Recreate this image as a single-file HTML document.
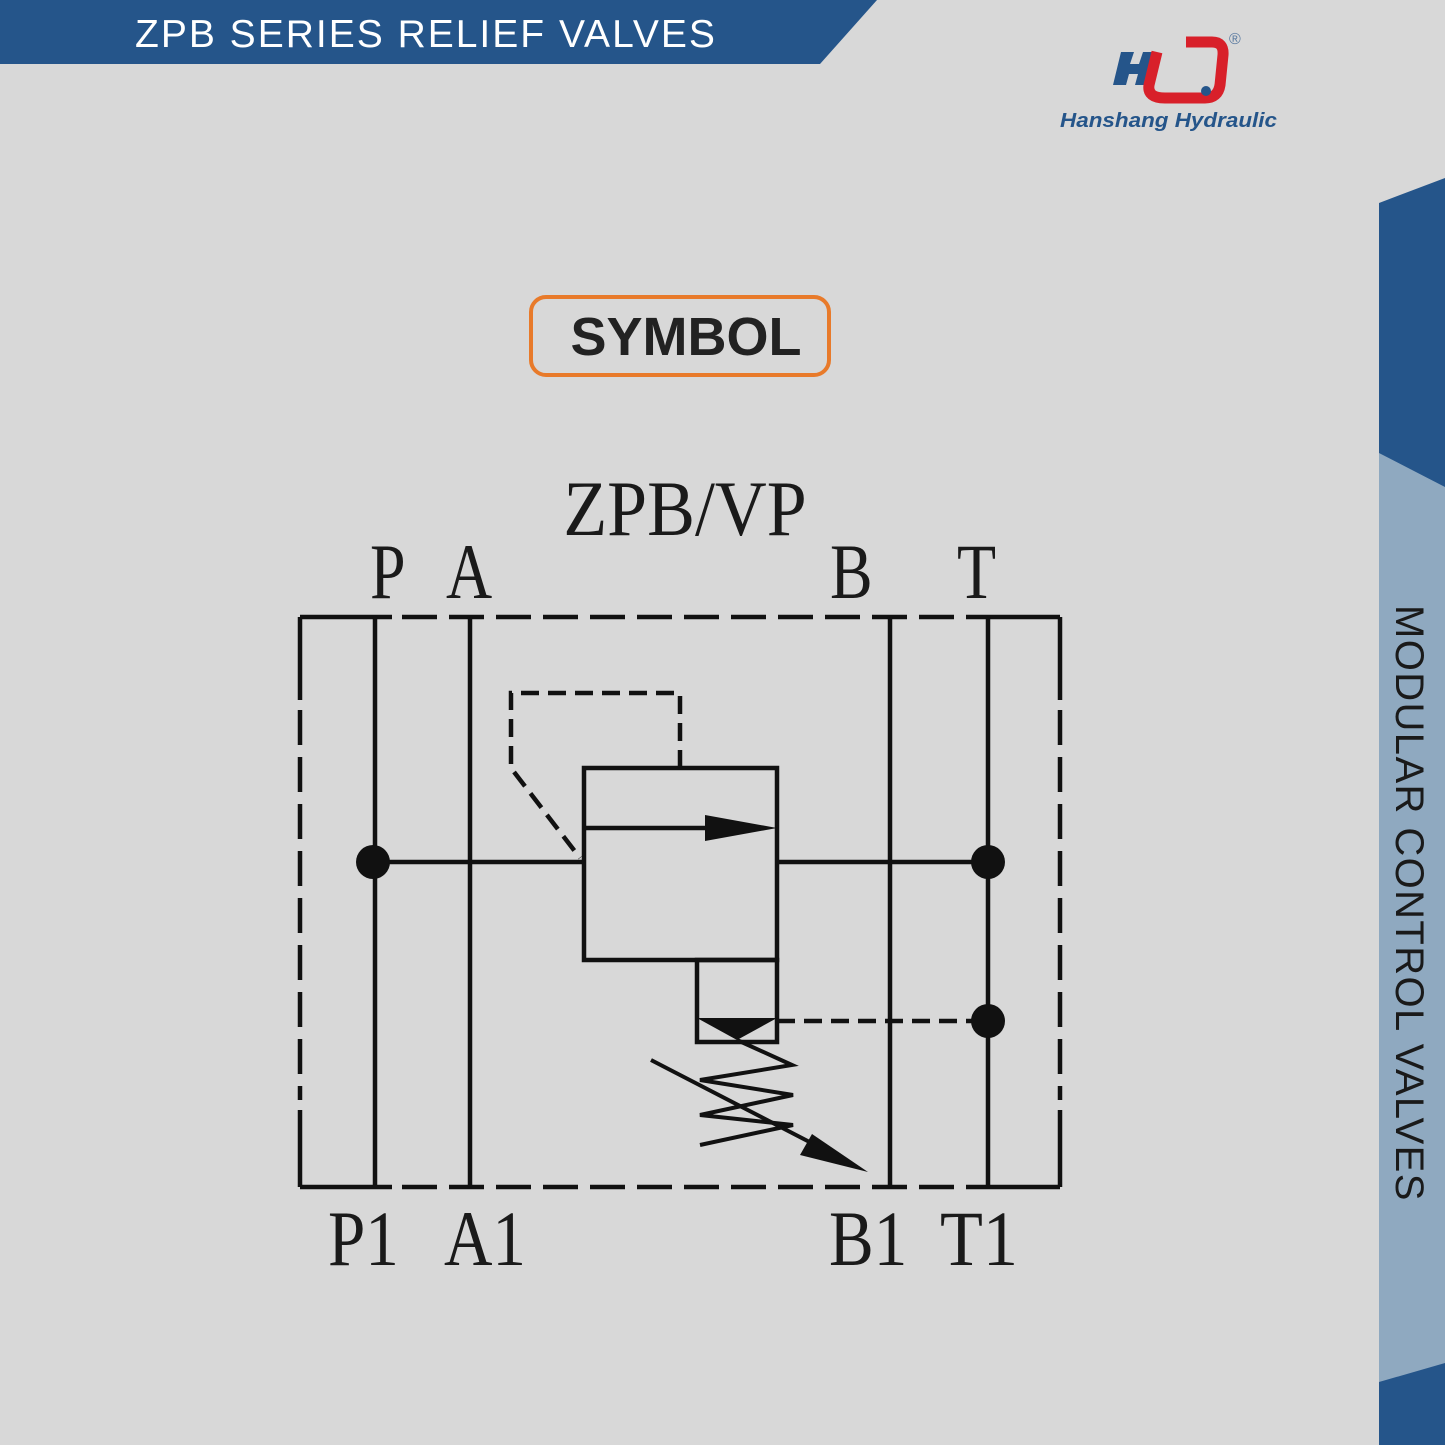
<!DOCTYPE html>
<html><head><meta charset="utf-8"><style>
html,body{margin:0;padding:0;background:#d8d8d8;}
body{width:1445px;height:1445px;position:relative;overflow:hidden;font-family:"Liberation Sans",sans-serif;}
</style></head><body>
<svg width="1445" height="1445" viewBox="0 0 1445 1445" style="position:absolute;left:0;top:0">
<rect width="1445" height="1445" fill="#d8d8d8"/>
<polygon points="0,0 877,0 820,64 0,64" fill="#25558a"/>
<text x="135" y="47" fill="#fff" font-size="39" font-family="Liberation Sans" letter-spacing="2">ZPB SERIES RELIEF VALVES</text>
<polygon points="1379,203 1445,178 1445,1445 1379,1445" fill="#25558a"/>
<polygon points="1379,453 1445,487 1445,1363 1379,1382" fill="#8fa9c0"/>
<text transform="translate(1396,605) rotate(90)" font-size="40" fill="#1a1a1a" font-family="Liberation Sans" letter-spacing="1.4">MODULAR CONTROL VALVES</text>
<g>
<polygon points="1121,52 1134,52 1130,64 1139,64 1143,52 1156,52 1148,85 1135,85 1138,74 1129,74 1126,85 1113,85" fill="#25558a"/>
<path d="M1157,52 L1149,85 Q1147,98 1165,98 L1205,98 Q1218,98 1220,85 L1223,55 Q1224,42 1212,42 L1186,42" fill="none" stroke="#d8202a" stroke-width="11"/>
<circle cx="1206" cy="91" r="5" fill="#25558a"/>
<text x="1229" y="44" font-size="16" fill="#5a7aa0">®</text>
<text x="1060" y="127" font-size="20" font-weight="bold" font-style="italic" fill="#25558a" textLength="217" lengthAdjust="spacingAndGlyphs">Hanshang Hydraulic</text>
</g>
<rect x="531" y="297" width="298" height="78" rx="15" fill="none" stroke="#e87a2a" stroke-width="4"/>
<text x="686" y="355" text-anchor="middle" font-size="54" font-weight="bold" fill="#222">SYMBOL</text>
<g font-family="Liberation Serif" fill="#1a1a1a" font-size="78">
<text x="685" y="535" text-anchor="middle" transform="translate(685,0) scale(0.92,1) translate(-685,0)">ZPB/VP</text>
<text x="370" y="598" transform="translate(370,0) scale(0.82,1) translate(-370,0)">P</text>
<text x="446" y="598" transform="translate(446,0) scale(0.82,1) translate(-446,0)">A</text>
<text x="830" y="598" transform="translate(830,0) scale(0.82,1) translate(-830,0)">B</text>
<text x="957" y="598" transform="translate(957,0) scale(0.82,1) translate(-957,0)">T</text>
<text x="328" y="1265" transform="translate(328,0) scale(0.86,1) translate(-328,0)">P1</text>
<text x="444" y="1265" transform="translate(444,0) scale(0.86,1) translate(-444,0)">A1</text>
<text x="829" y="1265" transform="translate(829,0) scale(0.86,1) translate(-829,0)">B1</text>
<text x="940" y="1265" transform="translate(940,0) scale(0.9,1) translate(-940,0)">T1</text>
</g>
<g stroke="#111" stroke-width="4.5" fill="none">
<path d="M300,617 H392 M300,1187 H392 M300,617 V700 M300,1187 V1110 M1060,617 V700 M1060,1187 V1110 M968,617 H1060 M968,1187 H1060"/>
<path d="M402,617 H968 M402,1187 H968 M300,710 V1100 M1060,710 V1100" stroke-dasharray="35 12"/>
<path d="M375,617 V1187 M470,617 V1187 M890,617 V1187 M988,617 V1187"/>
<path d="M373,862 H584 M777,862 H988"/>
<rect x="584" y="768" width="193" height="192"/>
<path d="M584,828 H715"/>
<rect x="697" y="960" width="80" height="82"/>
<path d="M680,768 V693 H511 V768 L580,858" stroke-dasharray="18 9"/>
<path d="M777,1021 H988" stroke-dasharray="18 9"/>
<path d="M737,1040 L792,1065 L700,1080 L793,1095 L700,1115 L793,1125 L700,1145" stroke-width="4"/>
<path d="M651,1060 L825,1150" stroke-width="4"/>
</g>
<polygon points="705,815 777,828 705,841" fill="#111"/>
<polygon points="697,1018 777,1018 737,1040" fill="#111"/>
<polygon points="868,1172 800,1155 812,1134" fill="#111"/>
<circle cx="373" cy="862" r="17" fill="#111"/>
<circle cx="988" cy="862" r="17" fill="#111"/>
<circle cx="988" cy="1021" r="17" fill="#111"/>
</svg>
</body></html>
